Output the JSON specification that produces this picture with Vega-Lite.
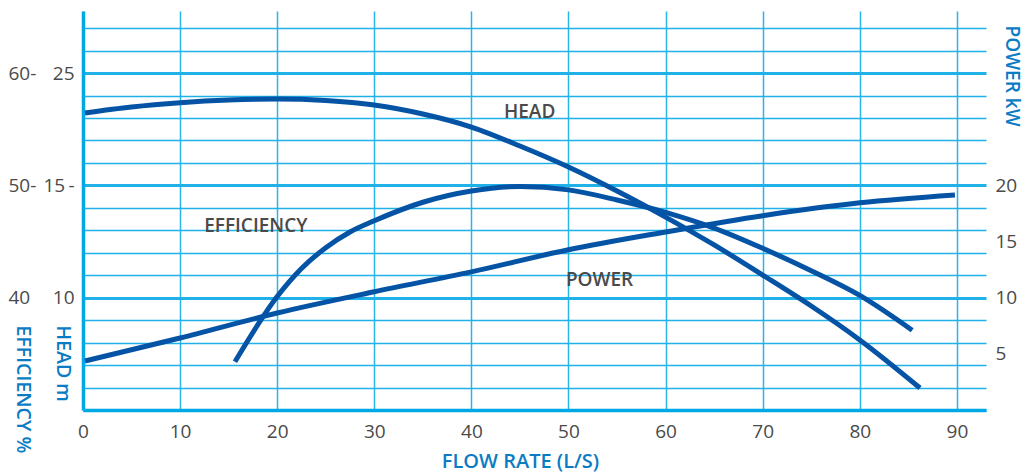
{
  "$schema": "https://vega.github.io/schema/vega-lite/v6.json",
  "width": 903,
  "height": 399,
  "autosize": "none",
  "padding": {"left": 83, "top": 11, "right": 39, "bottom": 62},
  "background": "white",
  "config": {"view": {"stroke": null}, "font": "Open Sans"},
  "datasets": {
    "head": [
      {"flow": 0.2, "head": 21.45},
      {"flow": 5, "head": 21.98},
      {"flow": 10, "head": 22.36},
      {"flow": 15, "head": 22.6},
      {"flow": 20, "head": 22.69},
      {"flow": 25, "head": 22.56},
      {"flow": 30, "head": 22.16},
      {"flow": 35, "head": 21.36},
      {"flow": 40, "head": 20.2},
      {"flow": 45, "head": 18.51},
      {"flow": 50, "head": 16.64},
      {"flow": 55, "head": 14.75},
      {"flow": 60, "head": 13.59},
      {"flow": 65, "head": 12.35},
      {"flow": 70, "head": 11.01},
      {"flow": 75, "head": 9.63},
      {"flow": 80, "head": 8.12},
      {"flow": 86.2, "head": 5.98}
    ],
    "efficiency": [
      {"flow": 15.65, "eff": 34.3},
      {"flow": 20, "eff": 40.1},
      {"flow": 22.5, "eff": 42.6},
      {"flow": 25, "eff": 44.45},
      {"flow": 27.5, "eff": 45.85},
      {"flow": 30, "eff": 46.85},
      {"flow": 35, "eff": 48.5},
      {"flow": 40, "eff": 49.5},
      {"flow": 45, "eff": 49.9},
      {"flow": 50, "eff": 49.6},
      {"flow": 55, "eff": 48.7},
      {"flow": 60, "eff": 47.6},
      {"flow": 65, "eff": 46.2},
      {"flow": 70, "eff": 44.4},
      {"flow": 75, "eff": 42.4},
      {"flow": 80, "eff": 40.2},
      {"flow": 85.4, "eff": 37.1}
    ],
    "power": [
      {"flow": 0.2, "power": 4.36},
      {"flow": 10, "power": 6.41},
      {"flow": 20, "power": 8.64},
      {"flow": 30, "power": 10.53},
      {"flow": 40, "power": 12.3},
      {"flow": 50, "power": 14.27},
      {"flow": 60, "power": 15.85},
      {"flow": 70, "power": 17.3},
      {"flow": 80, "power": 18.45},
      {"flow": 89.8, "power": 19.15}
    ],
    "labels": [
      {"flow": 46.0, "pos": 26.55, "label": "HEAD"},
      {"flow": 17.8, "pos": 16.35, "label": "EFFICIENCY"},
      {"flow": 53.2, "pos": 11.6, "label": "POWER"}
    ]
  },
  "encoding": {
    "x": {
      "field": "flow",
      "type": "quantitative",
      "scale": {"domain": [0, 93], "nice": false, "zero": false},
      "axis": {
        "values": [0, 10, 20, 30, 40, 50, 60, 70, 80, 90],
        "grid": true,
        "gridColor": "#29b4ea",
        "gridWidth": 1.5,
        "domain": true,
        "domainColor": "#00a9e6",
        "domainWidth": 3.5,
        "ticks": false,
        "labelPadding": 12,
        "labelFontSize": 19,
        "labelColor": "#4a4a4a",
        "labelFlush": false,
        "title": "FLOW RATE (L/S)",
        "titleFontSize": 20,
        "titleFontWeight": 600,
        "titleColor": "#0b7cc3",
        "titleX": 437,
        "titleY": 51,
        "titleAlign": "center",
        "titleBaseline": "middle"
      }
    }
  },
  "layer": [
    {
      "data": {"name": "efficiency"},
      "mark": {"type": "line", "color": "#0553a5", "strokeWidth": 5, "interpolate": "monotone", "strokeCap": "butt"},
      "encoding": {
        "y": {
          "field": "eff",
          "type": "quantitative",
          "scale": {"domain": [30, 65.53], "nice": false, "zero": false},
          "axis": {
            "orient": "left",
            "offset": 0,
            "values": [30, 32, 34, 36, 38, 40, 42, 44, 46, 48, 50, 52, 54, 56, 58, 60, 62, 64],
            "grid": true,
            "gridColor": "#1fb1e8",
            "gridWidth": {"condition": {"test": "datum.value % 10 === 0", "value": 3}, "value": 1.5},
            "domain": true,
            "domainColor": "#00a9e6",
            "domainWidth": 3.5,
            "ticks": false,
            "labelExpr": "datum.value == 60 ? '60-' : datum.value == 50 ? '50-' : datum.value == 40 ? '40' : ''",
            "labelAlign": "left",
            "labelBaseline": "middle",
            "labelPadding": 75,
            "labelFontSize": 19,
            "labelColor": "#4a4a4a",
            "labelOverlap": false,
            "labelFlush": false,
            "title": "EFFICIENCY %",
            "titleAngle": 90,
            "titleX": -61,
            "titleY": 314,
            "titleAlign": "left",
            "titleBaseline": "middle",
            "titleFontSize": 19.5,
            "titleFontWeight": 600,
            "titleColor": "#0b7cc3"
          }
        }
      }
    },
    {
      "data": {"name": "head"},
      "mark": {"type": "line", "color": "#0553a5", "strokeWidth": 5, "interpolate": "monotone", "strokeCap": "butt"},
      "encoding": {
        "y": {
          "field": "head",
          "type": "quantitative",
          "scale": {"domain": [10, 15, 25], "range": [286.7, 174.4, 62.1], "nice": false, "zero": false},
          "axis": {
            "orient": "left",
            "offset": 0,
            "values": [10, 15, 25],
            "grid": false,
            "domain": false,
            "ticks": false,
            "labelExpr": "datum.value == 15 ? '15\u2009-' : datum.label",
            "labelAlign": "right",
            "labelBaseline": "middle",
            "labelPadding": 9,
            "labelFontSize": 19,
            "labelColor": "#4a4a4a",
            "labelOverlap": false,
            "labelFlush": false,
            "title": "HEAD m",
            "titleAngle": 90,
            "titleX": -21,
            "titleY": 314,
            "titleAlign": "left",
            "titleBaseline": "middle",
            "titleFontSize": 19.5,
            "titleFontWeight": 600,
            "titleColor": "#0b7cc3"
          }
        }
      }
    },
    {
      "data": {"name": "power"},
      "mark": {"type": "line", "color": "#0553a5", "strokeWidth": 5, "interpolate": "monotone", "strokeCap": "butt"},
      "encoding": {
        "y": {
          "field": "power",
          "type": "quantitative",
          "scale": {"domain": [0, 35.53], "nice": false, "zero": false},
          "axis": {
            "orient": "right",
            "offset": 0,
            "values": [5, 10, 15, 20],
            "grid": false,
            "domain": false,
            "ticks": false,
            "labelAlign": "left",
            "labelBaseline": "middle",
            "labelPadding": 9,
            "labelFontSize": 19,
            "labelColor": "#4a4a4a",
            "labelOverlap": false,
            "labelFlush": false,
            "title": "POWER kW",
            "titleAngle": 90,
            "titleX": 25,
            "titleY": 14,
            "titleAlign": "left",
            "titleBaseline": "middle",
            "titleFontSize": 19,
            "titleFontWeight": 600,
            "titleColor": "#0b7cc3"
          }
        }
      }
    },
    {
      "data": {"name": "labels"},
      "mark": {"type": "text", "fontSize": 19, "fontWeight": 600, "color": "#4a4a4a", "align": "center", "baseline": "middle"},
      "encoding": {
        "y": {"field": "pos", "type": "quantitative", "scale": {"domain": [0, 35.53], "nice": false, "zero": false}, "axis": null},
        "text": {"field": "label"}
      }
    }
  ],
  "resolve": {"scale": {"y": "independent"}, "axis": {"y": "independent"}}
}
